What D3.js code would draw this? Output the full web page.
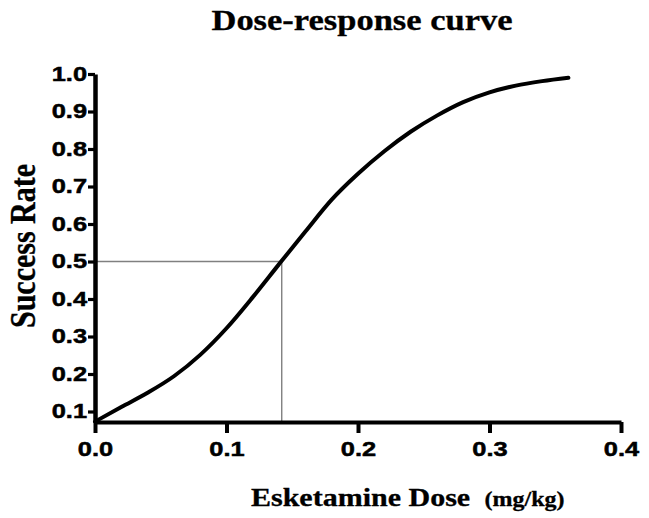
<!DOCTYPE html>
<html>
<head>
<meta charset="utf-8">
<script src="https://cdn.jsdelivr.net/npm/d3@7"></script>
<style>
  html, body { margin: 0; padding: 0; background: #fff; }
  svg { display: block; }
</style>
</head>
<body>
<svg id="chart" width="649" height="518"></svg>
<script>
// ---- data ----
const doses = [0.00, 0.02, 0.04, 0.06, 0.08, 0.10, 0.12, 0.14, 0.16, 0.18, 0.20, 0.22, 0.24, 0.26, 0.28, 0.30, 0.32, 0.34, 0.36];
const successRate = [0.073, 0.112, 0.150, 0.194, 0.251, 0.322, 0.405, 0.493, 0.580, 0.665, 0.734, 0.794, 0.846, 0.889, 0.925, 0.951, 0.969, 0.981, 0.990];
const xTicks = [0.0, 0.1, 0.2, 0.3, 0.4];
const yTicks = [0.1, 0.2, 0.3, 0.4, 0.5, 0.6, 0.7, 0.8, 0.9, 1.0];
const ed50 = 0.142;
const refRate = 0.5;
const titleText = "Dose-response curve";
const xTitle = "Esketamine Dose";
const xUnit = "(mg/kg)";
const yTitle = "Success Rate";

(function () {
  // ---- layout ----
  const svg = d3.select("#chart");
  const mLeft = 95, mRight = 621, mTop = 74, mBottom = 422;
  const yMin = 0.072;
  const sx = 1.2;   // horizontal stretch of serif lettering
  const sxt = 1.27; // horizontal stretch of tick labels
  const x = d3.scaleLinear().domain([0, 0.4]).range([mLeft, mRight]);
  const y = d3.scaleLinear().domain([yMin, 1.0]).range([mBottom, mTop]);

  const tickFont = "'Liberation Sans', Arial, sans-serif";
  const serif = "'Liberation Serif', 'Times New Roman', serif";

  // reference lines
  svg.append("line")
    .attr("x1", x(0)).attr("x2", x(ed50))
    .attr("y1", y(refRate)).attr("y2", y(refRate))
    .attr("stroke", "#808080").attr("stroke-width", 1.3);
  svg.append("line")
    .attr("x1", x(ed50)).attr("x2", x(ed50))
    .attr("y1", y(refRate)).attr("y2", y(yMin))
    .attr("stroke", "#808080").attr("stroke-width", 1.4);

  // curve
  const pts = doses.map((d, i) => [d, successRate[i]]);
  svg.append("path")
    .datum(pts)
    .attr("fill", "none")
    .attr("stroke", "#000")
    .attr("stroke-width", 4)
    .attr("stroke-linecap", "round")
    .attr("d", d3.line().x(d => x(d[0])).y(d => y(d[1])).curve(d3.curveMonotoneX));

  // x axis
  const xAxis = svg.append("g")
    .attr("transform", `translate(0,${mBottom})`)
    .call(d3.axisBottom(x).tickValues(xTicks).tickFormat(d3.format(".1f")).tickSizeInner(11).tickSizeOuter(0).tickPadding(9));
  xAxis.select(".domain").attr("stroke", "#000").attr("stroke-width", 3.8);
  xAxis.selectAll(".tick line").attr("stroke", "#000").attr("stroke-width", 4);
  xAxis.selectAll("text")
    .attr("font-family", tickFont).attr("font-weight", "bold").attr("font-size", 20).attr("fill", "#000")
    .attr("stroke", "#000").attr("stroke-width", 0.5)
    .attr("transform", `scale(${sxt},1)`);

  // y axis
  const yAxis = svg.append("g")
    .attr("transform", `translate(${mLeft},0)`)
    .call(d3.axisLeft(y).tickValues(yTicks).tickFormat(d3.format(".1f")).tickSizeInner(7).tickSizeOuter(0).tickPadding(1));
  yAxis.select(".domain").attr("stroke", "#000").attr("stroke-width", 4.5);
  yAxis.selectAll(".tick line").attr("stroke", "#000").attr("stroke-width", 3.2);
  yAxis.selectAll("text")
    .attr("font-family", tickFont).attr("font-weight", "bold").attr("font-size", 20).attr("fill", "#000")
    .attr("stroke", "#000").attr("stroke-width", 0.5)
    .attr("x", -8 / sxt)
    .attr("transform", `scale(${sxt},1)`);

  // title
  svg.append("text")
    .attr("transform", `translate(362,30) scale(1.15,1)`)
    .attr("text-anchor", "middle")
    .attr("font-family", serif).attr("font-weight", "bold").attr("font-size", 30)
    .attr("stroke", "#000").attr("stroke-width", 0.3)
    .text(titleText);

  // x title
  const xt = svg.append("text")
    .attr("transform", `translate(251,506) scale(${sx},1)`)
    .attr("font-family", serif).attr("font-weight", "bold").attr("font-size", 25)
    .attr("stroke", "#000").attr("stroke-width", 0.3);
  xt.append("tspan").text(xTitle);
  xt.append("tspan").attr("dx", 12).attr("font-size", 20).text(xUnit);

  // y title
  svg.append("text")
    .attr("transform", `translate(35,246) rotate(-90) scale(1,${sx})`)
    .attr("text-anchor", "middle")
    .attr("font-family", serif).attr("font-weight", "bold").attr("font-size", 30)
    .attr("stroke", "#000").attr("stroke-width", 0.3)
    .text(yTitle);
})();
</script>
</body>
</html>
